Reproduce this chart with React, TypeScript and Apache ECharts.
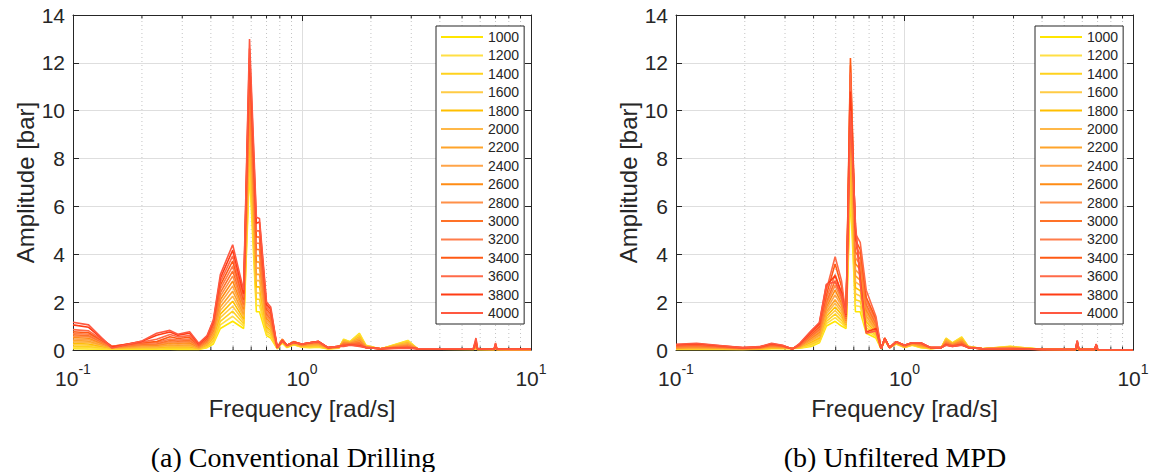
import React, { useEffect, useRef } from "react";
import * as echarts from "echarts";

// Depths (legend entries)
const depths = [1000, 1200, 1400, 1600, 1800, 2000, 2200, 2400, 2600, 2800, 3000, 3200, 3400, 3600, 3800, 4000];

// Line colours, yellow -> red
const colors = [
  "#FFE600", "#FFDF45", "#FFD21E", "#FFCB45", "#FFBF00", "#FFB848", "#FFA42A", "#FFA448",
  "#FF8C14", "#FF9048", "#FF7228", "#FF7C4A", "#FF5A14", "#FF6A48", "#FF3C14", "#FF5840",
];

// Minor (dotted) log grid positions
const minorTicks = [0.2, 0.3, 0.4, 0.5, 0.6, 0.7, 0.8, 0.9, 2, 3, 4, 5, 6, 7, 8, 9];

// (a) Conventional Drilling
const freqA = [0.1, 0.117, 0.148, 0.2, 0.232, 0.265, 0.287, 0.323, 0.354, 0.385, 0.41, 0.44, 0.498, 0.556, 0.59, 0.632, 0.652, 0.7, 0.73, 0.78, 0.82, 0.86, 0.92, 1.0, 1.08, 1.18, 1.3, 1.45, 1.52, 1.62, 1.78, 1.9, 2.2, 2.9, 3.2, 4.0, 5.6, 5.75, 5.85, 6.9, 7.0, 7.1, 10];
const conventionalAmp = [
  [0.05, 0.04, 0.03, 0.03, 0.03, 0.03, 0.02, 0.02, 0.02, 0.1, 0.25, 0.9, 1.2, 0.9, 7.5, 1.6, 1.6, 0.6, 0.5, 0.05, 0.3, 0.1, 0.22, 0.12, 0.1, 0.12, 0.04, 0.08, 0.45, 0.35, 0.7, 0.2, 0.04, 0.4, 0.05, 0.03, 0.02, 0.05, 0.02, 0.02, 0.04, 0.02, 0.01],
  [0.1, 0.09, 0.04, 0.05, 0.05, 0.06, 0.05, 0.05, 0.03, 0.13, 0.32, 1.05, 1.41, 1.0, 7.9, 1.86, 1.86, 0.69, 0.58, 0.05, 0.32, 0.11, 0.23, 0.13, 0.12, 0.14, 0.05, 0.09, 0.43, 0.34, 0.66, 0.19, 0.04, 0.38, 0.05, 0.03, 0.02, 0.06, 0.02, 0.02, 0.05, 0.02, 0.01],
  [0.16, 0.14, 0.05, 0.07, 0.07, 0.09, 0.08, 0.08, 0.04, 0.16, 0.39, 1.2, 1.62, 1.1, 8.3, 2.12, 2.12, 0.78, 0.66, 0.06, 0.34, 0.12, 0.24, 0.14, 0.14, 0.16, 0.05, 0.1, 0.41, 0.33, 0.62, 0.18, 0.04, 0.35, 0.05, 0.03, 0.03, 0.07, 0.02, 0.02, 0.06, 0.02, 0.01],
  [0.22, 0.2, 0.06, 0.09, 0.09, 0.12, 0.11, 0.11, 0.05, 0.19, 0.46, 1.35, 1.83, 1.2, 8.7, 2.38, 2.38, 0.87, 0.74, 0.06, 0.36, 0.13, 0.25, 0.15, 0.16, 0.18, 0.06, 0.1, 0.39, 0.32, 0.58, 0.17, 0.04, 0.33, 0.05, 0.03, 0.03, 0.08, 0.02, 0.02, 0.07, 0.02, 0.01],
  [0.28, 0.25, 0.07, 0.11, 0.11, 0.15, 0.14, 0.14, 0.06, 0.22, 0.53, 1.5, 2.04, 1.3, 9.1, 2.64, 2.64, 0.96, 0.82, 0.07, 0.38, 0.14, 0.26, 0.16, 0.18, 0.2, 0.06, 0.11, 0.37, 0.31, 0.54, 0.16, 0.05, 0.3, 0.05, 0.04, 0.03, 0.09, 0.03, 0.02, 0.08, 0.02, 0.02],
  [0.34, 0.31, 0.08, 0.13, 0.13, 0.18, 0.17, 0.18, 0.07, 0.25, 0.6, 1.65, 2.25, 1.4, 9.5, 2.9, 2.9, 1.05, 0.9, 0.07, 0.4, 0.15, 0.27, 0.17, 0.2, 0.22, 0.07, 0.11, 0.35, 0.3, 0.5, 0.15, 0.05, 0.28, 0.05, 0.04, 0.03, 0.1, 0.03, 0.02, 0.09, 0.02, 0.02],
  [0.4, 0.37, 0.09, 0.15, 0.16, 0.22, 0.2, 0.22, 0.08, 0.28, 0.67, 1.8, 2.46, 1.5, 9.9, 3.16, 3.16, 1.14, 0.98, 0.08, 0.42, 0.16, 0.28, 0.18, 0.22, 0.24, 0.07, 0.12, 0.33, 0.29, 0.46, 0.14, 0.05, 0.25, 0.05, 0.04, 0.03, 0.12, 0.03, 0.02, 0.1, 0.02, 0.02],
  [0.46, 0.43, 0.1, 0.17, 0.18, 0.26, 0.24, 0.26, 0.1, 0.31, 0.74, 1.95, 2.67, 1.6, 10.3, 3.42, 3.42, 1.23, 1.06, 0.08, 0.44, 0.17, 0.3, 0.19, 0.24, 0.26, 0.08, 0.12, 0.31, 0.28, 0.42, 0.13, 0.05, 0.23, 0.05, 0.04, 0.04, 0.14, 0.03, 0.02, 0.11, 0.02, 0.02],
  [0.52, 0.49, 0.11, 0.2, 0.2, 0.3, 0.28, 0.3, 0.12, 0.34, 0.81, 2.1, 2.88, 1.7, 10.7, 3.68, 3.68, 1.32, 1.14, 0.09, 0.45, 0.18, 0.32, 0.2, 0.26, 0.28, 0.08, 0.13, 0.29, 0.27, 0.38, 0.12, 0.05, 0.2, 0.05, 0.04, 0.04, 0.16, 0.03, 0.02, 0.12, 0.02, 0.02],
  [0.58, 0.55, 0.12, 0.22, 0.23, 0.34, 0.32, 0.35, 0.14, 0.37, 0.88, 2.25, 3.09, 1.8, 11.0, 3.94, 3.94, 1.41, 1.22, 0.09, 0.45, 0.19, 0.33, 0.21, 0.28, 0.3, 0.09, 0.13, 0.27, 0.26, 0.34, 0.12, 0.05, 0.18, 0.05, 0.04, 0.04, 0.18, 0.03, 0.03, 0.14, 0.03, 0.02],
  [0.64, 0.6, 0.13, 0.24, 0.26, 0.4, 0.37, 0.4, 0.16, 0.4, 0.95, 2.4, 3.3, 1.9, 11.3, 4.2, 4.2, 1.5, 1.3, 0.1, 0.44, 0.2, 0.34, 0.22, 0.3, 0.32, 0.09, 0.14, 0.25, 0.25, 0.3, 0.11, 0.05, 0.15, 0.05, 0.05, 0.04, 0.2, 0.04, 0.03, 0.16, 0.03, 0.02],
  [0.7, 0.66, 0.14, 0.27, 0.3, 0.46, 0.42, 0.46, 0.18, 0.44, 1.02, 2.55, 3.51, 2.0, 11.6, 4.46, 4.46, 1.6, 1.4, 0.1, 0.42, 0.2, 0.35, 0.23, 0.3, 0.34, 0.1, 0.14, 0.23, 0.24, 0.27, 0.11, 0.05, 0.13, 0.05, 0.05, 0.04, 0.24, 0.04, 0.03, 0.18, 0.03, 0.02],
  [0.76, 0.72, 0.15, 0.3, 0.35, 0.55, 0.48, 0.53, 0.2, 0.48, 1.09, 2.7, 3.72, 2.1, 11.9, 4.72, 4.72, 1.7, 1.5, 0.1, 0.4, 0.2, 0.34, 0.24, 0.3, 0.35, 0.1, 0.15, 0.21, 0.23, 0.24, 0.1, 0.05, 0.11, 0.05, 0.05, 0.05, 0.28, 0.04, 0.03, 0.2, 0.03, 0.03],
  [0.85, 0.8, 0.16, 0.33, 0.45, 0.65, 0.55, 0.6, 0.22, 0.52, 1.15, 2.85, 3.93, 2.2, 12.2, 4.98, 4.98, 1.8, 1.6, 0.1, 0.4, 0.2, 0.33, 0.25, 0.3, 0.36, 0.1, 0.15, 0.19, 0.22, 0.21, 0.1, 0.05, 0.1, 0.05, 0.05, 0.05, 0.34, 0.04, 0.03, 0.23, 0.03, 0.03],
  [1.05, 0.95, 0.12, 0.36, 0.62, 0.75, 0.62, 0.7, 0.25, 0.56, 1.2, 3.0, 4.17, 2.35, 12.6, 5.3, 5.35, 1.9, 1.7, 0.1, 0.38, 0.2, 0.32, 0.25, 0.3, 0.36, 0.1, 0.15, 0.17, 0.21, 0.18, 0.1, 0.05, 0.09, 0.05, 0.05, 0.05, 0.42, 0.04, 0.03, 0.26, 0.03, 0.03],
  [1.16, 1.05, 0.08, 0.38, 0.7, 0.82, 0.66, 0.76, 0.28, 0.6, 1.25, 3.15, 4.4, 2.5, 13.0, 5.55, 5.5, 2.0, 1.8, 0.1, 0.36, 0.2, 0.3, 0.25, 0.3, 0.35, 0.1, 0.15, 0.15, 0.2, 0.15, 0.1, 0.05, 0.08, 0.05, 0.05, 0.05, 0.5, 0.04, 0.03, 0.3, 0.03, 0.03],
];

// (b) Unfiltered MPD
const freqB = [0.1, 0.123, 0.16, 0.196, 0.232, 0.262, 0.293, 0.323, 0.348, 0.39, 0.424, 0.455, 0.497, 0.53, 0.555, 0.58, 0.61, 0.64, 0.68, 0.75, 0.79, 0.82, 0.86, 0.92, 1.0, 1.08, 1.18, 1.3, 1.45, 1.52, 1.62, 1.78, 1.9, 2.2, 2.9, 4.0, 5.6, 5.7, 5.8, 6.8, 6.9, 7.0, 10];
const mpdAmp = [
  [0.02, 0.03, 0.02, 0.02, 0.03, 0.05, 0.05, 0.06, 0.08, 0.15, 0.3, 1.0, 1.2, 1.0, 0.9, 6.5, 1.6, 1.6, 0.7, 0.5, 0.05, 0.4, 0.1, 0.25, 0.1, 0.2, 0.1, 0.05, 0.1, 0.5, 0.3, 0.55, 0.15, 0.05, 0.15, 0.03, 0.02, 0.05, 0.02, 0.02, 0.04, 0.02, 0.01],
  [0.03, 0.04, 0.03, 0.02, 0.04, 0.06, 0.06, 0.06, 0.09, 0.19, 0.35, 1.1, 1.35, 1.12, 0.94, 7.0, 1.85, 1.82, 0.82, 0.56, 0.05, 0.41, 0.1, 0.26, 0.11, 0.21, 0.11, 0.05, 0.1, 0.48, 0.29, 0.52, 0.15, 0.05, 0.14, 0.03, 0.02, 0.07, 0.02, 0.02, 0.05, 0.02, 0.01],
  [0.04, 0.05, 0.04, 0.03, 0.04, 0.08, 0.07, 0.06, 0.1, 0.24, 0.4, 1.2, 1.5, 1.24, 0.98, 7.5, 2.1, 2.04, 0.94, 0.62, 0.05, 0.42, 0.1, 0.27, 0.12, 0.22, 0.12, 0.06, 0.1, 0.46, 0.28, 0.5, 0.14, 0.05, 0.13, 0.03, 0.02, 0.09, 0.02, 0.02, 0.06, 0.02, 0.01],
  [0.05, 0.06, 0.05, 0.03, 0.05, 0.09, 0.08, 0.06, 0.11, 0.28, 0.45, 1.3, 1.65, 1.36, 1.02, 8.0, 2.35, 2.26, 1.06, 0.68, 0.05, 0.43, 0.1, 0.27, 0.12, 0.22, 0.14, 0.06, 0.1, 0.44, 0.27, 0.47, 0.14, 0.05, 0.12, 0.03, 0.02, 0.11, 0.02, 0.02, 0.07, 0.02, 0.01],
  [0.06, 0.08, 0.06, 0.04, 0.05, 0.1, 0.09, 0.06, 0.12, 0.33, 0.5, 1.4, 1.8, 1.48, 1.06, 8.5, 2.6, 2.48, 1.18, 0.74, 0.05, 0.44, 0.1, 0.28, 0.13, 0.23, 0.15, 0.07, 0.1, 0.42, 0.26, 0.45, 0.13, 0.05, 0.11, 0.03, 0.02, 0.13, 0.02, 0.02, 0.08, 0.02, 0.01],
  [0.07, 0.09, 0.07, 0.04, 0.06, 0.12, 0.1, 0.06, 0.13, 0.37, 0.56, 1.5, 1.95, 1.6, 1.1, 9.0, 2.85, 2.7, 1.3, 0.8, 0.05, 0.45, 0.1, 0.29, 0.13, 0.24, 0.17, 0.07, 0.1, 0.4, 0.25, 0.42, 0.13, 0.05, 0.1, 0.03, 0.02, 0.15, 0.02, 0.02, 0.09, 0.02, 0.01],
  [0.08, 0.1, 0.08, 0.05, 0.07, 0.13, 0.11, 0.06, 0.14, 0.42, 0.62, 1.6, 2.1, 1.72, 1.14, 9.5, 3.1, 2.92, 1.42, 0.86, 0.05, 0.46, 0.1, 0.3, 0.14, 0.25, 0.18, 0.08, 0.1, 0.38, 0.24, 0.4, 0.12, 0.05, 0.09, 0.03, 0.02, 0.17, 0.02, 0.02, 0.1, 0.02, 0.01],
  [0.09, 0.12, 0.09, 0.05, 0.07, 0.15, 0.12, 0.05, 0.15, 0.46, 0.68, 1.7, 2.3, 1.84, 1.18, 10.0, 3.35, 3.14, 1.54, 0.92, 0.05, 0.47, 0.1, 0.31, 0.15, 0.26, 0.2, 0.08, 0.1, 0.35, 0.22, 0.37, 0.12, 0.05, 0.08, 0.02, 0.02, 0.19, 0.02, 0.02, 0.12, 0.02, 0.01],
  [0.1, 0.13, 0.1, 0.06, 0.08, 0.16, 0.13, 0.05, 0.16, 0.5, 0.74, 1.8, 2.5, 1.96, 1.22, 10.5, 3.6, 3.36, 1.66, 0.98, 0.05, 0.48, 0.1, 0.32, 0.16, 0.27, 0.21, 0.09, 0.1, 0.33, 0.21, 0.35, 0.11, 0.05, 0.08, 0.02, 0.02, 0.22, 0.02, 0.02, 0.14, 0.02, 0.01],
  [0.12, 0.15, 0.11, 0.06, 0.09, 0.18, 0.14, 0.05, 0.17, 0.54, 0.8, 1.9, 2.7, 2.08, 1.26, 11.0, 3.85, 3.58, 1.78, 1.04, 0.05, 0.49, 0.1, 0.33, 0.17, 0.28, 0.23, 0.09, 0.1, 0.31, 0.2, 0.32, 0.11, 0.05, 0.07, 0.02, 0.02, 0.25, 0.02, 0.02, 0.16, 0.02, 0.01],
  [0.14, 0.17, 0.12, 0.07, 0.1, 0.19, 0.15, 0.05, 0.19, 0.58, 0.86, 2.0, 2.9, 2.2, 1.3, 11.5, 4.1, 3.8, 1.9, 1.1, 0.05, 0.5, 0.1, 0.34, 0.18, 0.29, 0.25, 0.1, 0.1, 0.28, 0.19, 0.3, 0.1, 0.05, 0.06, 0.02, 0.02, 0.28, 0.02, 0.02, 0.18, 0.02, 0.01],
  [0.16, 0.19, 0.13, 0.07, 0.1, 0.21, 0.16, 0.05, 0.2, 0.62, 0.92, 2.15, 3.15, 2.35, 1.34, 11.9, 4.35, 4.0, 2.05, 1.2, 0.05, 0.5, 0.1, 0.35, 0.19, 0.3, 0.27, 0.1, 0.1, 0.26, 0.18, 0.27, 0.1, 0.05, 0.06, 0.02, 0.02, 0.31, 0.02, 0.02, 0.2, 0.02, 0.01],
  [0.18, 0.21, 0.14, 0.08, 0.11, 0.22, 0.17, 0.05, 0.22, 0.66, 0.98, 2.3, 3.6, 2.65, 1.38, 12.2, 4.6, 4.2, 2.2, 1.3, 0.05, 0.5, 0.1, 0.35, 0.2, 0.3, 0.28, 0.1, 0.1, 0.24, 0.17, 0.25, 0.1, 0.05, 0.05, 0.02, 0.02, 0.34, 0.02, 0.02, 0.22, 0.02, 0.01],
  [0.2, 0.23, 0.15, 0.09, 0.12, 0.24, 0.18, 0.04, 0.24, 0.7, 1.04, 2.5, 3.9, 2.9, 1.42, 11.6, 4.85, 4.5, 2.5, 1.4, 0.05, 0.5, 0.1, 0.35, 0.2, 0.3, 0.29, 0.1, 0.1, 0.22, 0.16, 0.22, 0.1, 0.05, 0.05, 0.02, 0.02, 0.36, 0.02, 0.02, 0.23, 0.02, 0.01],
  [0.22, 0.26, 0.17, 0.1, 0.13, 0.26, 0.19, 0.04, 0.26, 0.75, 1.1, 2.7, 3.1, 2.4, 1.46, 10.8, 5.1, 3.0, 0.75, 0.9, 0.05, 0.48, 0.1, 0.35, 0.2, 0.3, 0.3, 0.1, 0.1, 0.21, 0.15, 0.21, 0.1, 0.05, 0.05, 0.02, 0.02, 0.38, 0.02, 0.02, 0.24, 0.02, 0.01],
  [0.24, 0.28, 0.18, 0.1, 0.14, 0.28, 0.2, 0.04, 0.28, 0.8, 1.15, 2.75, 2.85, 2.3, 1.5, 10.0, 5.3, 2.8, 0.7, 0.8, 0.05, 0.45, 0.1, 0.35, 0.2, 0.3, 0.3, 0.1, 0.1, 0.2, 0.15, 0.2, 0.1, 0.05, 0.05, 0.02, 0.02, 0.4, 0.02, 0.02, 0.25, 0.02, 0.01],
];

const captions = ["(a) Conventional Drilling", "(b) Unfiltered MPD"];
const xName = "Frequency [rad/s]";
const yName = "Amplitude [bar]";

const SANS = "'Liberation Sans', Arial, Helvetica, sans-serif";
const SERIF = "'Liberation Serif', 'Times New Roman', serif";
const AX = "#262626";

export default function App() {
  const ref = useRef<HTMLDivElement>(null);

  useEffect(() => {
    if (!ref.current) return;
    const chart = echarts.init(ref.current, null, { renderer: "svg" });

    const grids = [
      { left: 73, top: 15, width: 458, height: 335 },
      { left: 676, top: 15, width: 457, height: 335 },
    ];
    const legendLeft = [436, 1035];
    const captionX = [293, 895];

    const xAxes: any[] = [];
    const yAxes: any[] = [];
    const series: any[] = [];
    const legends: any[] = [];
    const graphics: any[] = [];

    [0, 1].forEach((gi) => {
      xAxes.push({
        type: "log", logBase: 10, min: 0.1, max: 10, gridIndex: gi, position: "bottom",
        axisLine: { show: true, onZero: false, lineStyle: { color: AX, width: 1 } },
        axisTick: { show: true, inside: true, length: 6, lineStyle: { color: AX } },
        minorTick: { show: false },
        axisLabel: {
          margin: 12,
          formatter: (v: number) => `{b|10}{s|${Math.round(Math.log10(v))}}`,
          rich: {
            b: { fontSize: 21, fontFamily: SANS, color: AX, verticalAlign: "bottom", padding: [6, 0, 0, 0] },
            s: { fontSize: 14, fontFamily: SANS, color: AX, verticalAlign: "top" },
          },
        },
        splitLine: { show: true, lineStyle: { color: "#dedede", width: 1 } },
        name: xName, nameLocation: "middle", nameGap: 46,
        nameTextStyle: { fontSize: 24, color: AX, fontFamily: SANS },
      });
      xAxes.push({
        type: "log", logBase: 10, min: 0.1, max: 10, gridIndex: gi, position: "top",
        axisLine: { show: true, onZero: false, lineStyle: { color: AX, width: 1 } },
        axisTick: { show: true, inside: true, length: 6, lineStyle: { color: AX } },
        axisLabel: { show: false }, splitLine: { show: false },
      });
      yAxes.push({
        type: "value", min: 0, max: 14, interval: 2, gridIndex: gi, position: "left",
        axisLine: { show: true, onZero: false, lineStyle: { color: AX, width: 1 } },
        axisTick: { show: true, inside: true, length: 6, lineStyle: { color: AX } },
        axisLabel: { fontSize: 21, color: AX, fontFamily: SANS, margin: 8 },
        splitLine: { show: true, lineStyle: { color: "#dedede", width: 1 } },
        name: yName, nameLocation: "middle", nameGap: 36,
        nameTextStyle: { fontSize: 24, color: AX, fontFamily: SANS },
      });
      yAxes.push({
        type: "value", min: 0, max: 14, interval: 2, gridIndex: gi, position: "right",
        axisLine: { show: true, onZero: false, lineStyle: { color: AX, width: 1 } },
        axisTick: { show: true, inside: true, length: 6, lineStyle: { color: AX } },
        axisLabel: { show: false }, splitLine: { show: false },
      });

      // minor dotted grid lines + minor ticks (bottom and top)
      series.push({
        type: "custom", xAxisIndex: gi * 2, yAxisIndex: gi * 2, silent: true, z: 1,
        data: minorTicks.map((v) => [v, 0]),
        encode: { x: 0, y: 1 },
        renderItem: (_p: any, api: any) => {
          const x = api.value(0);
          const a = api.coord([x, 0]);
          const b = api.coord([x, 14]);
          return {
            type: "group",
            children: [
              { type: "line", shape: { x1: a[0], y1: a[1], x2: b[0], y2: b[1] }, style: { stroke: "#c4c4c4", lineWidth: 1, lineDash: [1, 3] } },
              { type: "line", shape: { x1: a[0], y1: a[1], x2: a[0], y2: a[1] - 3.5 }, style: { stroke: AX, lineWidth: 1 } },
              { type: "line", shape: { x1: b[0], y1: b[1], x2: b[0], y2: b[1] + 3.5 }, style: { stroke: AX, lineWidth: 1 } },
            ],
          };
        },
      });

      const freq = gi === 0 ? freqA : freqB;
      const amp = gi === 0 ? conventionalAmp : mpdAmp;
      depths.forEach((d, k) => {
        series.push({
          type: "line", name: String(d), xAxisIndex: gi * 2, yAxisIndex: gi * 2,
          data: freq.map((f, i) => [f, amp[k][i]]),
          symbol: "none", z: 3, clip: true,
          lineStyle: { width: 1.6, color: colors[k] },
          itemStyle: { color: colors[k] },
        });
      });

      legends.push({
        data: depths.map(String), orient: "vertical", left: legendLeft[gi], top: 26,
        itemWidth: 42, itemHeight: 14, itemGap: 4.4, padding: [4, 5, 4, 4],
        borderColor: AX, borderWidth: 1, backgroundColor: "#ffffff",
        itemStyle: { opacity: 0, borderWidth: 0 },
        lineStyle: { width: 2 },
        textStyle: { fontSize: 14, color: AX, fontFamily: SANS, lineHeight: 14 },
        selectedMode: false,
      });

      graphics.push({
        type: "text", x: captionX[gi], y: 457,
        style: { text: captions[gi], font: `28px ${SERIF}`, fill: "#000", align: "center", verticalAlign: "middle", textAlign: "center", textVerticalAlign: "middle" },
      });
    });

    chart.setOption({
      animation: false,
      backgroundColor: "#ffffff",
      grid: grids,
      xAxis: xAxes,
      yAxis: yAxes,
      legend: legends,
      series,
      graphic: graphics,
    });

    return () => chart.dispose();
  }, []);

  return <div ref={ref} style={{ position: "absolute", left: 0, top: 0, width: 1155, height: 472, background: "#fff" }} />;
}
